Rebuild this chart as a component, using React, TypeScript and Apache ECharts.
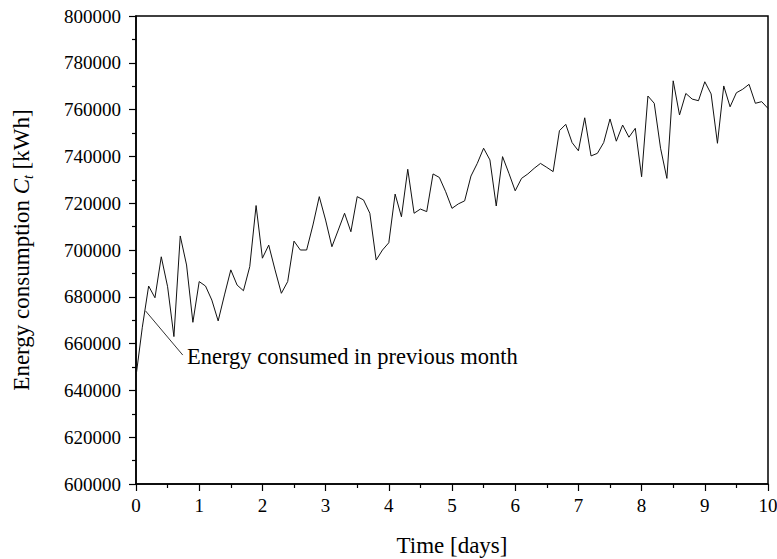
import React, { useEffect, useRef } from "react";
import * as echarts from "echarts";

// Energy consumption readings every 0.1 day (kWh)
const consumption: number[] = [
  646000, 667000, 684600, 679600, 697100, 684300, 663000, 706000, 693600, 669100,
  686500, 684600, 678600, 669700, 680800, 691500, 685000, 682600, 692900, 719000,
  696500, 702100, 691500, 681500, 686500, 703800, 700000, 700000, 710700, 722800,
  712800, 701400, 708500, 715700, 707800, 722800, 721400, 715700, 695700, 700000,
  703100, 723900, 714200, 734500, 715700, 717500, 716400, 732500, 731000, 724900,
  717800, 719700, 721000, 731600, 737000, 743500, 738500, 718800, 739900, 732800,
  725300, 730600, 732500, 734900, 737000, 735300, 733500, 751000, 753700, 745900,
  742400, 756500, 740200, 741300, 745900, 756000, 746500, 753400, 748200, 752000,
  731300, 765800, 762700, 743500, 730600, 772300, 757700, 766900, 764500, 763800,
  771900, 766700, 745600, 770100, 761200, 767200, 768700, 770800, 762700, 763400,
  760500,
];
const SAMPLES_PER_DAY = 10;
const days: number[] = consumption.map((_, i) => i / SAMPLES_PER_DAY);

const xTicks = { min: 0, max: 10, interval: 1 };
const yTicks = { min: 600000, max: 800000, interval: 20000 };

const annotationText = "Energy consumed in previous month";
const annotationFrom: [number, number] = [0.15, 674000];
const annotationTo: [number, number] = [0.74, 655100];

const FONT = "Liberation Serif";

export default function App() {
  const ref = useRef<HTMLDivElement>(null);
  useEffect(() => {
    if (!ref.current) return;
    const chart = echarts.init(ref.current, undefined, { renderer: "svg" });
    chart.setOption({
      animation: false,
      backgroundColor: "#fff",
      textStyle: { fontFamily: FONT, color: "#000" },
      grid: {
        left: 136,
        right: 9,
        top: 16,
        bottom: 75,
        show: true,
        borderColor: "#000",
        borderWidth: 1.5,
        backgroundColor: "transparent",
        containLabel: false,
        outerBoundsMode: "none",
      },
      xAxis: {
        type: "value",
        min: xTicks.min,
        max: xTicks.max,
        interval: xTicks.interval,
        name: "Time [days]",
        nameLocation: "middle",
        nameGap: 50,
        nameTextStyle: { fontFamily: FONT, fontSize: 23, color: "#000" },
        axisLine: { show: true, onZero: false, lineStyle: { color: "#000", width: 1.5 } },
        axisTick: { show: true, inside: false, length: 7, lineStyle: { color: "#000", width: 1.2 } },
        minorTick: { show: true, splitNumber: 2, length: 4, lineStyle: { color: "#000", width: 1.2 } },
        axisLabel: { fontFamily: FONT, fontSize: 19, color: "#000", margin: 12 },
        splitLine: { show: false },
      },
      yAxis: {
        type: "value",
        min: yTicks.min,
        max: yTicks.max,
        interval: yTicks.interval,
        name: "{a|Energy consumption }{i|C}{s|t}{a| [kWh]}",
        nameLocation: "middle",
        nameGap: 101,
        nameTextStyle: {
          fontFamily: FONT,
          fontSize: 23,
          color: "#000",
          rich: {
            a: { fontFamily: FONT, fontSize: 23, color: "#000", lineHeight: 27 },
            i: { fontFamily: FONT, fontSize: 23, color: "#000", fontStyle: "italic", lineHeight: 27 },
            s: { fontFamily: FONT, fontSize: 14, color: "#000", fontStyle: "italic", lineHeight: 14, verticalAlign: "bottom" },
          },
        },
        axisLine: { show: true, onZero: false, lineStyle: { color: "#000", width: 1.5 } },
        axisTick: { show: true, inside: false, length: 7, lineStyle: { color: "#000", width: 1.2 } },
        minorTick: { show: true, splitNumber: 2, length: 4, lineStyle: { color: "#000", width: 1.2 } },
        axisLabel: {
          fontFamily: FONT,
          fontSize: 19,
          color: "#000",
          margin: 15,
          formatter: (v: number) => String(v),
        },
        splitLine: { show: false },
      },
      series: [
        {
          type: "line",
          data: days.map((d, i) => [d, consumption[i]]),
          showSymbol: false,
          symbol: "none",
          lineStyle: { color: "#111", width: 1 },
          markLine: {
            silent: true,
            symbol: ["none", "none"],
            label: { show: false },
            lineStyle: { color: "#333", width: 1, type: "solid" },
            data: [[{ coord: annotationFrom }, { coord: annotationTo }]],
          },
        },
      ],
      graphic: [
        {
          type: "text",
          left: 187,
          top: 345,
          style: {
            text: annotationText,
            fontFamily: FONT,
            fontSize: 22.5,
            fill: "#000",
          },
        },
      ],
    });
    return () => chart.dispose();
  }, []);
  return (
    <div
      ref={ref}
      style={{ position: "fixed", left: 0, top: 0, width: 777, height: 559, background: "#fff" }}
    />
  );
}
